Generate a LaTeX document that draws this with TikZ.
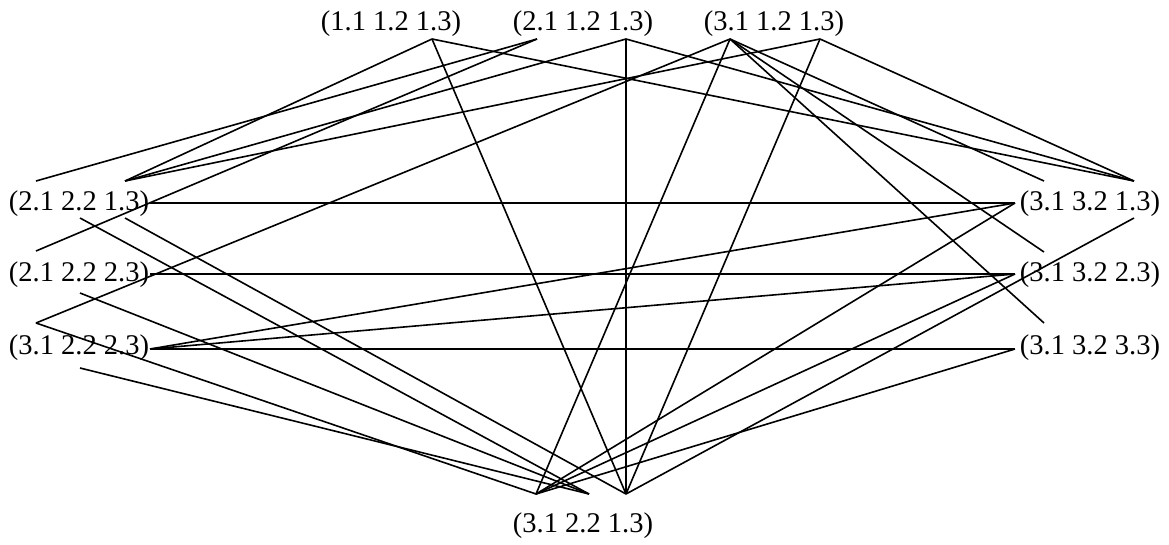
\documentclass[tikz,border=0pt]{standalone}
\usepackage{fontspec}
\setmainfont{Liberation Serif}
\begin{document}
\begin{tikzpicture}[x=1pt,y=-1pt,
  lbl/.style={font=\fontsize{28.5}{34}\selectfont, inner sep=0pt, anchor=center},
  edge/.style={line width=1.6pt, draw=black}]
\useasboundingbox (0,0) rectangle (1169,544);
\fill[white] (0,0) rectangle (1169,544);
% labels
\node[lbl] (t1) at (391,23.5) {(1.1 1.2 1.3)};
\node[lbl] (t2) at (583,23.5) {(2.1 1.2 1.3)};
\node[lbl] (t3) at (774,23.5) {(3.1 1.2 1.3)};
\node[lbl] (l1) at (79,204) {(2.1 2.2 1.3)};
\node[lbl] (l2) at (79,275) {(2.1 2.2 2.3)};
\node[lbl] (l3) at (79,348) {(3.1 2.2 2.3)};
\node[lbl] (r1) at (1090,204) {(3.1 3.2 1.3)};
\node[lbl] (r2) at (1090,275) {(3.1 3.2 2.3)};
\node[lbl] (r3) at (1090,348) {(3.1 3.2 3.3)};
\node[lbl] (bt) at (583,526) {(3.1 2.2 1.3)};
% ports
\coordinate (A) at (432,39);
\coordinate (B) at (537,39);
\coordinate (C) at (626,39);
\coordinate (D) at (730,39);
\coordinate (E) at (820,39);
\coordinate (L1a) at (36,181);
\coordinate (L1b) at (125,181);
\coordinate (L1r) at (150,203);
\coordinate (L1c) at (80,218);
\coordinate (L1d) at (125,218);
\coordinate (L2a) at (36,251);
\coordinate (L2r) at (150,274);
\coordinate (L2c) at (80,293);
\coordinate (L3a) at (36,323);
\coordinate (L3r) at (150,349);
\coordinate (L3c) at (80,368);
\coordinate (R1a) at (1044,181);
\coordinate (R1b) at (1134,181);
\coordinate (R1l) at (1015,203);
\coordinate (R1d) at (1134,218);
\coordinate (R2a) at (1044,252);
\coordinate (R2l) at (1015,274);
\coordinate (R3a) at (1044,323);
\coordinate (R3l) at (1015,349);
\coordinate (M1) at (536,494);
\coordinate (M2) at (589,494);
\coordinate (M3) at (626,494);
% edges
\draw[edge] (A) -- (L1b);
\draw[edge] (A) -- (M3);
\draw[edge] (A) -- (R1b);
\draw[edge] (B) -- (L1a);
\draw[edge] (B) -- (L2a);
\draw[edge] (C) -- (L1b);
\draw[edge] (C) -- (M3);
\draw[edge] (C) -- (R1b);
\draw[edge] (D) -- (L3a);
\draw[edge] (D) -- (M1);
\draw[edge] (D) -- (R1a);
\draw[edge] (D) -- (R2a);
\draw[edge] (D) -- (R3a);
\draw[edge] (E) -- (L1b);
\draw[edge] (E) -- (M3);
\draw[edge] (E) -- (R1b);
\draw[edge] (L1r) -- (R1l);
\draw[edge] (L2r) -- (R2l);
\draw[edge] (L3r) -- (R3l);
\draw[edge] (L3r) -- (R1l);
\draw[edge] (L3r) -- (R2l);
\draw[edge] (R1l) -- (M1);
\draw[edge] (R2l) -- (M1);
\draw[edge] (R3l) -- (M1);
\draw[edge] (R1d) -- (M3);
\draw[edge] (L1c) -- (M2);
\draw[edge] (L1d) -- (M3);
\draw[edge] (L2c) -- (M2);
\draw[edge] (L3c) -- (M2);
\draw[edge] (L3a) -- (M1);
\end{tikzpicture}
\end{document}
